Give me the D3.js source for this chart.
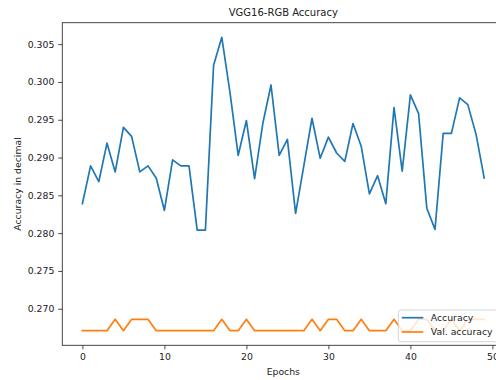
<!DOCTYPE html>
<html>
<head>
<meta charset="utf-8">
<script src="https://cdn.jsdelivr.net/npm/d3@7"></script>
<style>
  html, body { margin: 0; padding: 0; background: #fff; }
  svg { display: block; font-family: "DejaVu Sans", sans-serif; }
</style>
</head>
<body>
<svg id="chart" width="496" height="380"></svg>
<script>
// Training accuracy per epoch
const accuracy = [
  0.2839, 0.2889, 0.2868, 0.2919, 0.2881, 0.2940, 0.2928, 0.2881, 0.2889, 0.2873,
  0.2830, 0.2897, 0.2889, 0.2889, 0.2804, 0.2804, 0.3022, 0.3059, 0.2986, 0.2903,
  0.2949, 0.2872, 0.2945, 0.2996, 0.2903, 0.2924, 0.2826, 0.2889, 0.2952, 0.2899,
  0.2927, 0.2906, 0.2895, 0.2945, 0.2915, 0.2852, 0.2876, 0.2839, 0.2966, 0.2882,
  0.2983, 0.2958, 0.2833, 0.2805, 0.2932, 0.2932, 0.2979, 0.2970, 0.2931, 0.2873
];
// Validation accuracy per epoch
const valAccuracy = [
  0.2671, 0.2671, 0.2671, 0.2671, 0.2686, 0.2671, 0.2686, 0.2686, 0.2686, 0.2671,
  0.2671, 0.2671, 0.2671, 0.2671, 0.2671, 0.2671, 0.2671, 0.2686, 0.2671, 0.2671,
  0.2686, 0.2671, 0.2671, 0.2671, 0.2671, 0.2671, 0.2671, 0.2671, 0.2686, 0.2671,
  0.2686, 0.2686, 0.2671, 0.2671, 0.2686, 0.2671, 0.2671, 0.2671, 0.2686, 0.2671,
  0.2671, 0.2686, 0.2686, 0.2671, 0.2671, 0.2686, 0.2671, 0.2686, 0.2686, 0.2686
];
const epochs = d3.range(accuracy.length);
const xTicks = [0, 10, 20, 30, 40, 50];
const yTicks = [0.270, 0.275, 0.280, 0.285, 0.290, 0.295, 0.300, 0.305];
const seriesNames = ["Accuracy", "Val. accuracy"];
const seriesColors = ["#1f77b4", "#ff7f0e"];

const svg = d3.select("#chart");
const plot = { left: 62.3, top: 22.7, width: 442, height: 322.6 };

// Data limits padded by 5% on each side
const xExt = d3.extent(epochs);
const xPad = (xExt[1] - xExt[0]) * 0.05;
const allY = accuracy.concat(valAccuracy);
const yExt = d3.extent(allY);
const yPad = (yExt[1] - yExt[0]) * 0.05;

const x = d3.scaleLinear()
  .domain([xExt[0] - xPad, xExt[1] + xPad])
  .range([plot.left, plot.left + plot.width]);
const y = d3.scaleLinear()
  .domain([yExt[0] - yPad, yExt[1] + yPad])
  .range([plot.top + plot.height, plot.top]);

// Series lines
const line = d3.line().x((d, i) => x(epochs[i])).y(d => y(d));
[accuracy, valAccuracy].forEach((s, k) => {
  svg.append("path")
    .datum(s)
    .attr("d", line)
    .attr("fill", "none")
    .attr("stroke", seriesColors[k])
    .attr("stroke-width", 1.7)
    .attr("stroke-linejoin", "round")
    .attr("stroke-linecap", "square");
});

// Axes
const xAxis = d3.axisBottom(x).tickValues(xTicks).tickFormat(d3.format("d"))
  .tickSizeInner(4).tickSizeOuter(0).tickPadding(4);
const yAxis = d3.axisLeft(y).tickValues(yTicks).tickFormat(d3.format(".3f"))
  .tickSizeInner(4).tickSizeOuter(0).tickPadding(4);

const gx = svg.append("g")
  .attr("transform", `translate(0,${plot.top + plot.height})`)
  .call(xAxis);
const gy = svg.append("g")
  .attr("transform", `translate(${plot.left},0)`)
  .call(yAxis);
[gx, gy].forEach(g => {
  g.select(".domain").remove();
  g.selectAll(".tick line").attr("stroke", "#333").attr("stroke-width", 0.9);
  g.selectAll(".tick text")
    .attr("fill", "#222")
    .style("font-size", "9.3px")
    .style("font-family", "'DejaVu Sans', sans-serif");
});

// Frame
svg.append("rect")
  .attr("x", plot.left).attr("y", plot.top)
  .attr("width", plot.width).attr("height", plot.height)
  .attr("fill", "none")
  .attr("stroke", "#333")
  .attr("stroke-width", 0.9);

// Title and axis labels
svg.append("text")
  .attr("x", plot.left + plot.width / 2).attr("y", 15.5)
  .attr("text-anchor", "middle")
  .attr("fill", "#222")
  .style("font-size", "10px")
  .text("VGG16-RGB Accuracy");

svg.append("text")
  .attr("x", plot.left + plot.width / 2).attr("y", 375)
  .attr("text-anchor", "middle")
  .attr("fill", "#222")
  .style("font-size", "9.3px")
  .text("Epochs");

svg.append("text")
  .attr("transform", `translate(21,${plot.top + plot.height / 2}) rotate(-90)`)
  .attr("text-anchor", "middle")
  .attr("fill", "#222")
  .style("font-size", "9.3px")
  .text("Accuracy in decimal");

// Legend, lower right
const legend = svg.append("g").attr("transform", "translate(398.3,310)");
legend.append("rect")
  .attr("width", 102).attr("height", 31.7)
  .attr("rx", 2.5)
  .attr("fill", "#fff").attr("fill-opacity", 0.8)
  .attr("stroke", "#d0d0d0").attr("stroke-width", 0.9);
seriesNames.forEach((name, k) => {
  const ry = 7.7 + k * 14.3;
  legend.append("line")
    .attr("x1", 3.5).attr("x2", 25)
    .attr("y1", ry).attr("y2", ry)
    .attr("stroke", seriesColors[k]).attr("stroke-width", 1.7);
  legend.append("text")
    .attr("x", 32.5).attr("y", ry)
    .attr("dy", "0.35em")
    .attr("fill", "#222")
    .style("font-size", "9.3px")
    .text(name);
});
</script>
</body>
</html>
